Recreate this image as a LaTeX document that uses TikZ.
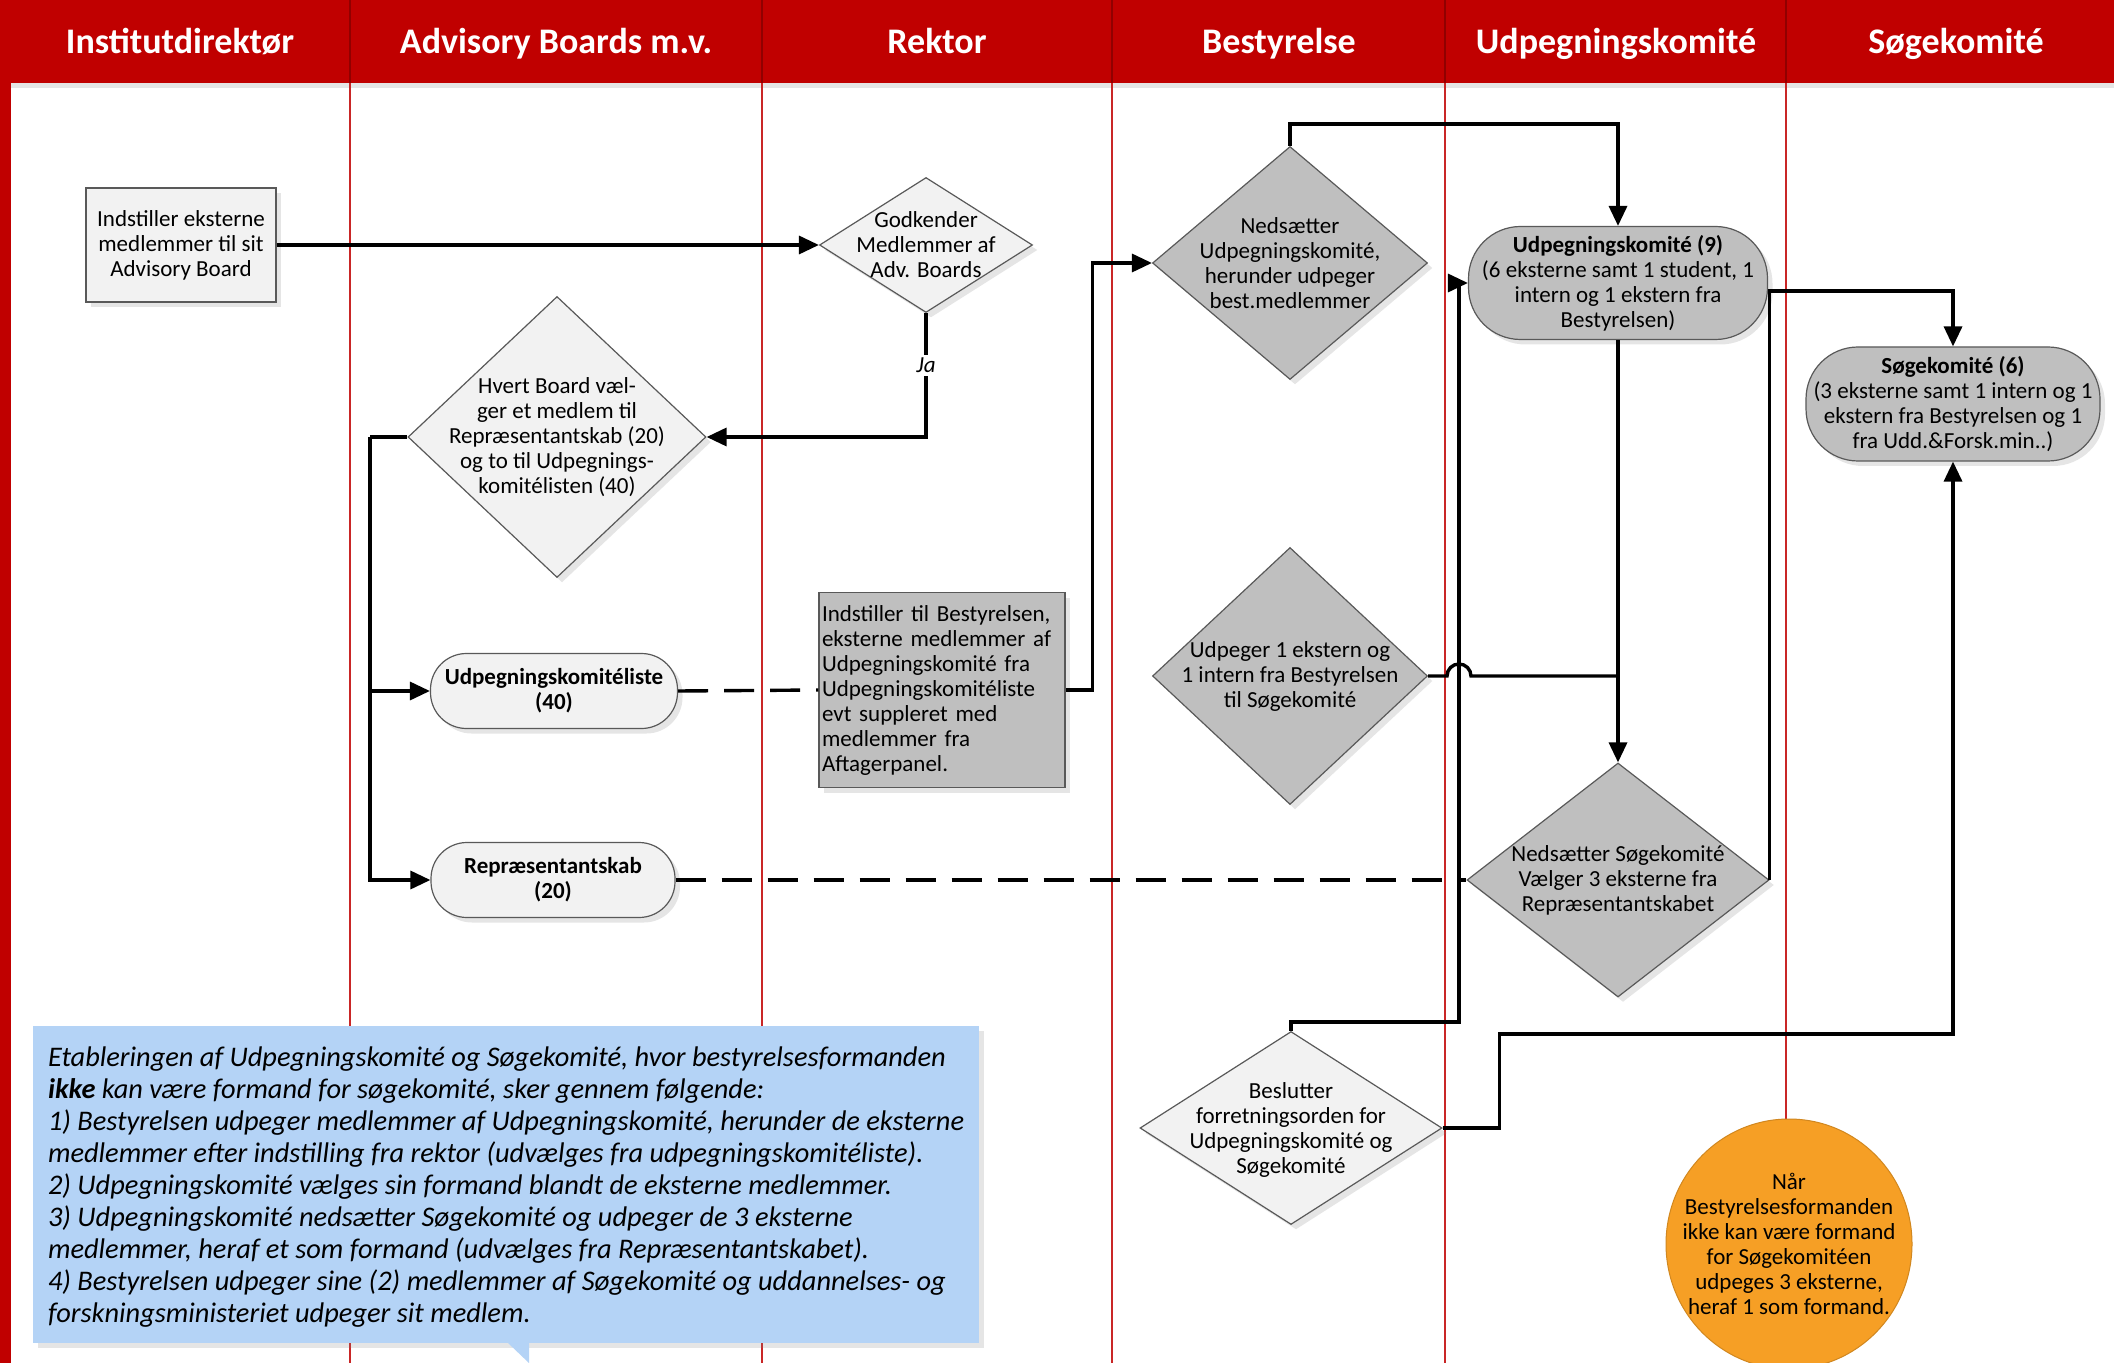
\documentclass[tikz,border=0pt]{standalone}
\usepackage{fontspec}
\setmainfont{Carlito}
\usetikzlibrary{positioning,shapes,arrows.meta,backgrounds,shadows}

\definecolor{lanered}{HTML}{C00000}
\definecolor{boxlight}{HTML}{F2F2F2}
\definecolor{boxdark}{HTML}{BFBFBF}
\definecolor{edgegray}{HTML}{595959}
\definecolor{noteblue}{HTML}{B4D3F6}
\definecolor{noteorange}{HTML}{F69F25}

\begin{document}
\begin{tikzpicture}[x=0.5pt,y=-0.5pt]

	\tikzstyle{every node}=[font=\fontsize{11.5}{12.5}\selectfont]
	\tikzstyle{lanehead}=[text=white,anchor=base,font=\fontsize{18}{20}\selectfont\bfseries]
	\tikzstyle{lane}=[draw=lanered!85,line width=0.8pt]
	\tikzstyle{softshadow}=[drop shadow={shadow xshift=2.5pt,shadow yshift=-2.5pt,opacity=0.2}]
	\tikzstyle{procbox}=[rectangle,draw=edgegray,line width=0.6pt,softshadow,inner sep=1.5pt]
	\tikzstyle{decision}=[diamond,draw=edgegray,line width=0.6pt,softshadow,inner sep=0pt]
	\tikzstyle{pill}=[rectangle,rounded corners=18pt,draw=edgegray,line width=0.6pt,softshadow,align=center,inner sep=1pt]
	\tikzstyle{dtext}=[align=center,inner sep=0pt]
	\tikzstyle{link}=[line width=1.7pt]
	\tikzstyle{flow}=[link,-{Triangle[length=10pt,width=9pt]}]
	\tikzstyle{dashlink}=[link,dash pattern=on 15pt off 8pt]

	\useasboundingbox (0,0) rectangle (2114,1363);

	% swimlanes
	\begin{pgfonlayer}{background}
		\fill[white] (0,0) rectangle (2114,1363);
		\fill[lanered] (0,0) rectangle (2114,83);
		\fill[lanered] (0,0) rectangle (11,1363);
		\fill[black,opacity=0.1] (11,83) rectangle (2114,88);
		\draw[lane] (350,83) -- (350,1363);
		\draw[lane] (762,83) -- (762,1363);
		\draw[lane] (1112,83) -- (1112,1363);
		\draw[lane] (1445,83) -- (1445,1363);
		\draw[lane] (1786,83) -- (1786,1363);
		\draw[lanered!75!black,line width=0.6pt] (350,0) -- (350,83);
		\draw[lanered!75!black,line width=0.6pt] (762,0) -- (762,83);
		\draw[lanered!75!black,line width=0.6pt] (1112,0) -- (1112,83);
		\draw[lanered!75!black,line width=0.6pt] (1445,0) -- (1445,83);
		\draw[lanered!75!black,line width=0.6pt] (1786,0) -- (1786,83);
	\end{pgfonlayer}

	\node[lanehead] (h-inst) at (180,54) {Institutdirektør};
	\node[lanehead] (h-adv) at (556,54) {Advisory Boards m.v.};
	\node[lanehead] (h-rek) at (937,54) {Rektor};
	\node[lanehead] (h-best) at (1279,54) {Bestyrelse};
	\node[lanehead] (h-udk) at (1616,54) {Udpegningskomité};
	\node[lanehead] (h-sok) at (1956,54) {Søgekomité};

	% Institutdirektoer / Advisory Boards / Rektor
	\node[procbox,fill=boxlight,minimum width=95pt,minimum height=57pt,align=center] (indst) at (181,245) {Indstiller eksterne\\medlemmer til sit\\Advisory Board};

	\node[decision,fill=boxlight,minimum width=106.5pt,minimum height=67.5pt] (godk) at (926,245) {};
	\node[dtext] (godk-t) at (godk) {Godkender\\Medlemmer af\\Adv. Boards};

	\node[decision,fill=boxlight,minimum width=149pt,minimum height=140.5pt] (hvert) at (557,437) {};
	\node[dtext] (hvert-t) at (hvert) {Hvert Board væl-\\ger et medlem til\\Repræsentantskab (20)\\og to til Udpegnings-\\komitélisten (40)};

	\node[pill,fill=boxlight,minimum width=123.5pt,minimum height=37.5pt,font=\fontsize{11.5}{12.5}\selectfont\bfseries] (uliste) at (554,691) {Udpegningskomitéliste\\(40)};
	\node[pill,fill=boxlight,minimum width=122pt,minimum height=37.5pt,font=\fontsize{11.5}{12.5}\selectfont\bfseries] (repr) at (553,880) {Repræsentantskab\\(20)};

	\node[procbox,fill=boxdark,minimum width=123pt,minimum height=97.5pt,text width=120pt,align=left] (rindst) at (942,690) {Indstiller til Bestyrelsen,\\eksterne medlemmer af\\Udpegningskomité fra\\Udpegningskomitéliste\\evt suppleret med\\medlemmer fra\\Aftagerpanel.};

	% Bestyrelse
	\node[decision,fill=boxdark,minimum width=137.5pt,minimum height=116.5pt] (nedu) at (1290,263) {};
	\node[dtext] (nedu-t) at (nedu) {Nedsætter\\Udpegningskomité,\\herunder udpeger\\best.medlemmer};

	\node[decision,fill=boxdark,minimum width=137.5pt,minimum height=128.5pt] (udpeg) at (1290,676) {};
	\node[dtext] (udpeg-t) at (udpeg) {Udpeger 1 ekstern og\\1 intern fra Bestyrelsen\\til Søgekomité};

	\node[decision,fill=boxlight,minimum width=151pt,minimum height=96.5pt] (beslut) at (1291,1128) {};
	\node[dtext] (beslut-t) at ([yshift=-1pt]beslut.center) {Beslutter\\forretningsorden for\\Udpegningskomité og\\Søgekomité};

	% Udpegningskomite / Soegekomite
	\node[pill,fill=boxdark,rounded corners=26pt,minimum width=149.5pt,minimum height=56.5pt] (udk) at (1618,283) {\textbf{Udpegningskomité (9)}\\(6 eksterne samt 1 student, 1\\intern og 1 ekstern fra\\Bestyrelsen)};

	\node[decision,fill=boxdark,minimum width=151pt,minimum height=117pt] (neds) at (1618,880) {};
	\node[dtext] (neds-t) at (neds) {Nedsætter Søgekomité\\Vælger 3 eksterne fra\\Repræsentantskabet};

	\node[pill,fill=boxdark,rounded corners=26pt,minimum width=147pt,minimum height=57pt] (sogk) at (1953,404) {\textbf{Søgekomité (6)}\\(3 eksterne samt 1 intern og 1\\ekstern fra Bestyrelsen og 1\\fra Udd.\&Forsk.min..)};

	\node[ellipse,fill=noteorange,draw=noteorange!85!black,line width=0.5pt,minimum width=123pt,minimum height=125pt,inner sep=0pt] (naar) at (1789,1244) {};
	\node[dtext] (naar-t) at (naar) {Når\\Bestyrelsesformanden\\ikke kan være formand\\for Søgekomitéen\\udpeges 3 eksterne,\\heraf 1 som formand.};

	% note
	\node[rectangle,fill=noteblue,softshadow,minimum width=473pt,minimum height=158.5pt,align=left,inner sep=0pt,font=\fontsize{14.2}{16}\selectfont\itshape] (note) at (506,1184.5) {\rule{0pt}{12pt}Etableringen af Udpegningskomité og Søgekomité, hvor bestyrelsesformanden\\\textbf{ikke} kan være formand for søgekomité, sker gennem følgende:\\1) Bestyrelsen udpeger medlemmer af Udpegningskomité, herunder de eksterne\\medlemmer efter indstilling fra rektor (udvælges fra udpegningskomitéliste).\\2) Udpegningskomité vælges sin formand blandt de eksterne medlemmer.\\3) Udpegningskomité nedsætter Søgekomité og udpeger de 3 eksterne\\medlemmer, heraf et som formand (udvælges fra Repræsentantskabet).\\4) Bestyrelsen udpeger sine (2) medlemmer af Søgekomité og uddannelses- og\\forskningsministeriet udpeger sit medlem.};
	\fill[noteblue] (507,1342) -- (529,1342) -- (529,1363) -- cycle;

	% connectors
	\draw[flow] (indst.east) -- (godk.west);
	\draw[flow] (godk.south) |- node[pos=0.21,fill=white,inner sep=1.5pt,font=\fontsize{11.5}{12.5}\selectfont\itshape] (ja) {Ja} (hvert.east);
	\coordinate (hsplit) at (370,437);
	\draw[link] (hvert.west) -- (hsplit);
	\draw[flow] (hsplit) |- (uliste.west);
	\draw[flow] (hsplit) |- (repr.west);
	\draw[dashlink] (uliste.east) -- (rindst.west);
	\draw[flow] (rindst.east) -- ++(27,0) |- (nedu.west);
	\draw[flow] (nedu.north) -- ++(0,-22) -| (udk.north);
	\coordinate (bturn) at (1459,283);
	\draw[flow] (beslut.north) -- ++(0,-9) -| (bturn) -- (udk.west);
	\draw[dashlink] (repr.east) -- (neds.west);
	\coordinate (hop) at (1447,676);
	\draw[link] (udpeg.east) -- (hop) arc[start angle=180,end angle=0,radius=6pt] -- (udpeg.east -| udk.south);
	\draw[flow] (udk.south) -- (neds.north);
	\draw[flow] (neds.east) -- ++(0,-589) -| (sogk.north);
	\draw[flow] (beslut.east) -- ++(57,0) -- ++(0,-94) -| (sogk.south);

\end{tikzpicture}
\end{document}
